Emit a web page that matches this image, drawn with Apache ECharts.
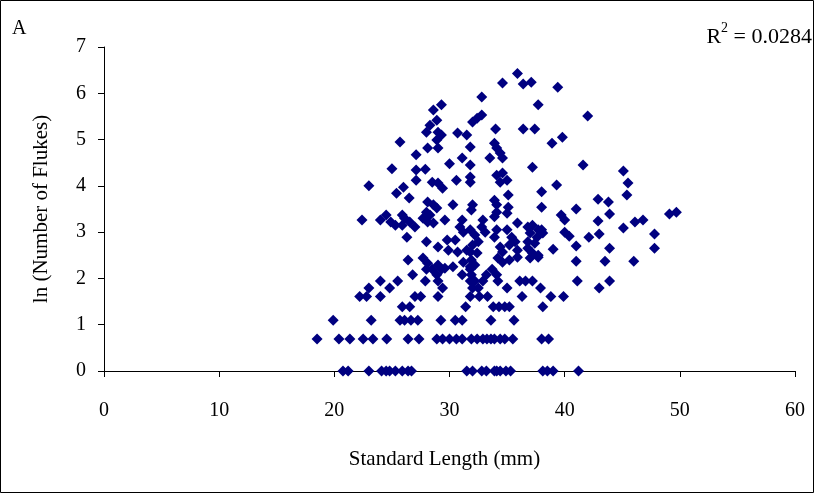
<!DOCTYPE html>
<html>
<head>
<meta charset="utf-8">
<script src="https://cdn.jsdelivr.net/npm/echarts@6/dist/echarts.min.js"></script>
<style>
  html, body { margin: 0; padding: 0; background: #fff; }
  #chart { width: 815px; height: 494px; }
</style>
</head>
<body>
<div id="chart"></div>
<script>
// Standard length (mm) of each fish and ln of its fluke count
const standardLength = [
  // ln = 0
  20.75, 21.2, 23.0, 24.1, 24.5, 24.8, 25.3, 25.9, 26.4, 26.7, 31.5, 32.0, 32.8, 33.2, 33.9, 34.1, 34.4, 34.9, 35.3, 38.1, 38.5, 39.0, 41.2,
  // ln 2
  18.5, 20.4, 21.35, 22.5, 23.35, 24.55, 26.4, 27.35, 28.9, 29.4, 30.0, 30.6, 31.1, 31.9, 32.4, 32.9, 33.25, 33.6, 33.9, 34.4, 34.8, 35.5, 38.0, 38.6,
  // ln 3
  19.9, 23.2, 25.7, 26.1, 26.65, 27.25, 29.25, 30.5, 31.1, 33.6, 35.6,
  // ln 4
  25.9, 26.55, 31.4, 33.8, 34.3, 34.8, 35.2, 38.1,
  // ln 5
  22.2, 22.8, 24.0, 27.0, 27.5, 29.0, 31.8, 32.6, 33.3, 36.3, 38.8, 39.9,
  // ln 6
  23.0, 24.8, 29.4, 32.0, 32.5, 35.0, 37.9, 43.0,
  // ln 7
  24.0, 25.5, 27.9, 29.0, 31.8, 32.2, 32.9, 34.2, 36.1, 36.6, 37.2, 41.1, 43.9,
  // ln 8
  26.8, 28.9, 31.1, 31.9, 33.2, 34.1,
  // ln 9
  28.0, 28.5, 29.3, 33.7, 31.8,
  // higher counts
  25.0, 23.0, 25.4, 22.4, 24.0, 24.5, 24.9, 25.3,
  25.7, 29.3, 28.6, 28.9, 28.3, 28.0, 29.0, 29.3, 28.9, 30.7, 31.5, 28.1, 29.0, 31.8, 27.1, 30.0, 31.1, 31.8,
  35.9, 34.6, 36.4, 37.1, 32.8, 37.7, 32.0, 32.4, 32.8, 34.0, 36.4, 37.4, 33.9, 34.1, 34.4, 34.6, 33.5, 37.2,
  39.4, 42.0, 39.8, 38.9, 41.6, 45.1,
  27.1, 27.9, 27.1, 26.0, 26.5, 30.6, 31.8, 28.5, 29.0, 29.4, 30.3,
  28.1, 28.6, 28.9, 28.0, 28.3, 27.7, 28.1, 28.6,
  25.9, 26.1, 26.55, 27.0, 25.9,
  29.6, 31.1, 30.9, 31.2,
  26.3, 28.0, 29.0, 29.8, 30.5, 29.9, 30.7, 31.5,
  26.4, 27.7, 28.1, 29.0, 29.6, 30.3, 31.2, 31.8,
  34.1, 34.6, 35.0, 34.4, 31.8, 38.0, 35.1, 32.0, 31.9, 33.9, 34.1, 34.1, 33.9, 35.1, 35.0, 38.0, 35.9,
  32.9, 32.8, 33.1, 31.8, 32.2, 32.5, 32.0, 31.8, 32.4, 34.1, 33.9, 35.0, 35.4, 35.7, 35.2,
  36.8, 37.2, 37.7, 37.0, 37.6, 36.8, 37.4, 34.4, 34.6, 34.2, 34.6, 35.2, 35.9, 35.9,
  36.8, 37.2, 37.7, 37.0, 31.9, 32.2,
  45.5, 45.4, 39.3, 41.0, 42.9, 43.8, 43.9, 39.7, 40.0, 42.9, 46.1, 46.8, 49.1, 49.7,
  38.0, 38.1, 40.0, 40.4, 42.1, 43.0, 45.1, 47.8, 41.0, 39.0, 43.9, 47.8, 37.7, 41.0, 43.5, 46.0
];

const lnFlukes = [
  0, 0, 0, 0, 0, 0, 0, 0, 0, 0, 0, 0, 0, 0, 0, 0, 0, 0, 0, 0, 0, 0, 0,
  0.693, 0.693, 0.693, 0.693, 0.693, 0.693, 0.693, 0.693, 0.693, 0.693, 0.693, 0.693, 0.693, 0.693, 0.693, 0.693, 0.693, 0.693, 0.693, 0.693, 0.693, 0.693, 0.693, 0.693,
  1.099, 1.099, 1.099, 1.099, 1.099, 1.099, 1.099, 1.099, 1.099, 1.099, 1.099,
  1.386, 1.386, 1.386, 1.386, 1.386, 1.386, 1.386, 1.386,
  1.609, 1.609, 1.609, 1.609, 1.609, 1.609, 1.609, 1.609, 1.609, 1.609, 1.609, 1.609,
  1.792, 1.792, 1.792, 1.792, 1.792, 1.792, 1.792, 1.792,
  1.946, 1.946, 1.946, 1.946, 1.946, 1.946, 1.946, 1.946, 1.946, 1.946, 1.946, 1.946, 1.946,
  2.079, 2.079, 2.079, 2.079, 2.079, 2.079,
  2.197, 2.197, 2.197, 2.197, 2.197,
  4.37, 4.00, 3.84, 3.26, 3.26, 3.37, 3.22, 3.15,
  4.95, 5.75, 5.64, 5.42, 5.31, 5.16, 5.16, 5.10, 4.99, 5.14, 5.10, 4.82, 4.82, 4.84, 4.67, 4.48, 4.60, 4.45,
  6.43, 6.22, 6.20, 6.24, 5.92, 5.75, 5.38, 5.46, 5.53, 5.23, 5.23, 5.23, 4.92, 4.82, 4.71, 4.60, 4.60, 4.40,
  6.13, 5.51, 5.05, 4.92, 4.45, 4.32,
  4.34, 4.36, 4.12, 3.97, 3.74, 4.12, 4.08, 4.08, 4.06, 3.95, 3.59,
  3.65, 3.59, 3.52, 3.43, 3.37, 3.30, 3.22, 3.20,
  3.37, 3.30, 3.22, 3.11, 3.15,
  3.26, 3.26, 3.11, 3.00,
  2.89, 2.79, 2.68, 2.83, 2.83, 2.61, 2.57, 2.61,
  2.40, 2.44, 2.33, 2.29, 2.22, 2.25, 2.35, 2.25,
  4.23, 4.28, 4.12, 4.08, 4.19, 3.87, 3.80, 3.59, 3.48, 3.69, 3.59, 3.43, 3.33, 3.54, 3.41, 3.54, 3.20,
  3.26, 3.11, 3.00, 3.05, 2.94, 2.79, 2.72, 2.57, 2.55, 3.05, 2.89, 3.05, 2.89, 2.79, 2.72,
  3.11, 3.15, 3.05, 2.98, 2.89, 2.79, 2.76, 2.68, 2.57, 2.44, 2.35, 2.40, 2.61, 2.46,
  2.65, 2.55, 2.50, 2.44, 2.40, 2.29,
  4.06, 3.80, 4.02, 3.50, 3.71, 3.65, 3.39, 3.37, 3.26, 3.24, 3.22, 3.26, 3.39, 3.43,
  3.05, 2.98, 3.00, 2.91, 2.89, 2.96, 3.09, 2.96, 2.70, 2.63, 2.65, 2.65, 2.46, 2.37, 2.37, 2.37
];

const xTicks = { min: 0, max: 60, step: 10 };
const yTicks = { min: 0, max: 7, step: 1 };
const rSquared = '0.0284';

const points = standardLength.map((x, i) => [x, lnFlukes[i]]);

const serif = '"Liberation Serif", "DejaVu Serif", serif';
const chart = echarts.init(document.getElementById('chart'), null, { renderer: 'canvas' });

chart.setOption({
  animation: false,
  backgroundColor: '#ffffff',
  grid: { left: 104, right: 20, top: 47, bottom: 123, containLabel: false },
  xAxis: {
    type: 'value',
    min: xTicks.min, max: xTicks.max, interval: xTicks.step,
    name: 'Standard Length (mm)',
    nameLocation: 'middle',
    nameGap: 78,
    nameTextStyle: { fontFamily: serif, fontSize: 21, color: '#000', padding: [0, 10, 0, 0] },
    axisLine: { show: true, lineStyle: { color: '#000', width: 1 } },
    axisTick: { show: true, inside: false, length: 6, lineStyle: { color: '#000' } },
    axisLabel: { margin: 30, fontFamily: serif, fontSize: 20, color: '#000' },
    splitLine: { show: false }
  },
  yAxis: {
    type: 'value',
    min: yTicks.min, max: yTicks.max, interval: yTicks.step,
    name: 'ln (Number of Flukes)',
    nameLocation: 'middle',
    nameGap: 52,
    nameTextStyle: { fontFamily: serif, fontSize: 21, color: '#000' },
    axisLine: { show: true, lineStyle: { color: '#000', width: 1 } },
    axisTick: { show: true, inside: false, length: 6, lineStyle: { color: '#000' } },
    axisLabel: { margin: 18, fontFamily: serif, fontSize: 20, color: '#000' },
    splitLine: { show: false }
  },
  graphic: [
    {
      type: 'rect',
      shape: { x: 0.5, y: 0.5, width: 813, height: 492 },
      style: { fill: 'none', stroke: '#000', lineWidth: 1 },
      silent: true
    },
    {
      type: 'text',
      left: 12, top: 19,
      style: { text: 'A', font: '20px ' + serif, fill: '#000' }
    },
    {
      type: 'text',
      right: 3, top: 21,
      style: {
        text: '{b|R}{s|2}{b| = ' + rSquared + '}',
        rich: {
          b: { fontFamily: serif, fontSize: 22, fill: '#000', verticalAlign: 'bottom', lineHeight: 27 },
          s: { fontFamily: serif, fontSize: 14, fill: '#000', verticalAlign: 'top', lineHeight: 27 }
        }
      }
    }
  ],
  series: [{
    type: 'scatter',
    data: points,
    symbol: 'diamond',
    symbolSize: 11,
    itemStyle: { color: '#000080', opacity: 1 },
    clip: false
  }]
});
</script>
</body>
</html>
